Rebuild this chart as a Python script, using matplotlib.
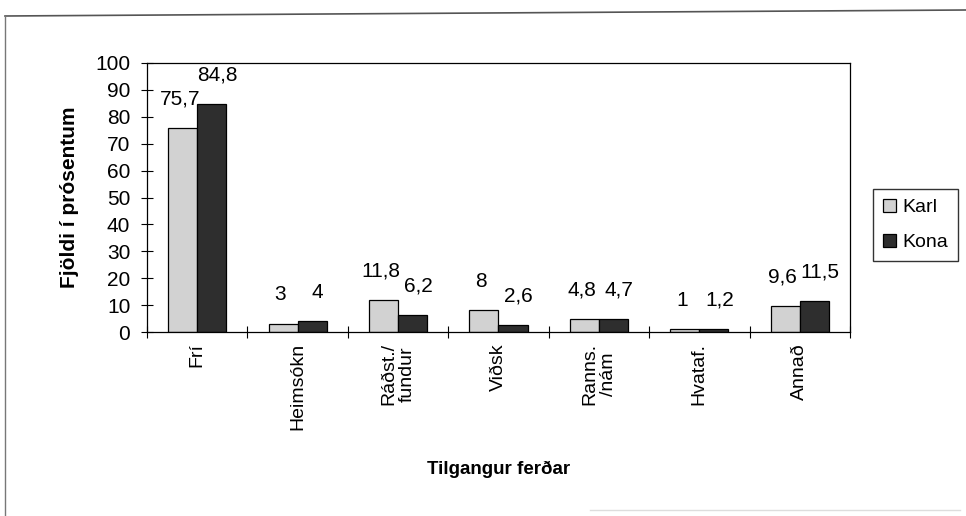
import numpy as np
import matplotlib
matplotlib.use("Agg")
import matplotlib.pyplot as plt
from matplotlib.lines import Line2D

plt.rcParams["font.family"] = ["Liberation Sans", "DejaVu Sans"]

categories = ["Frí", "Heimsókn", "Ráðst./\nfundur", "Viðsk", "Ranns.\n/nám", "Hvataf.", "Annað"]
karl = [75.7, 3, 11.8, 8, 4.8, 1, 9.6]
kona = [84.8, 4, 6.2, 2.6, 4.7, 1.2, 11.5]
karl_lbl = ["75,7", "3", "11,8", "8", "4,8", "1", "9,6"]
kona_lbl = ["84,8", "4", "6,2", "2,6", "4,7", "1,2", "11,5"]

fig = plt.figure(figsize=(9.66, 5.16), dpi=100)
ax = fig.add_axes([147/966, 1 - 332/516, (850-147)/966, (332-63)/516])

x = np.arange(len(categories))
w = 0.29
ax.bar(x - w/2, karl, w, color="#d2d2d2", edgecolor="black", linewidth=0.9, label="Karl")
ax.bar(x + w/2, kona, w, color="#2e2e2e", edgecolor="black", linewidth=0.9, label="Kona")

# value labels above the bars (comma as decimal sign)
for xi, v, s in zip(x - w/2, karl, karl_lbl):
    ax.annotate(s, (xi, v), xytext=(-2, 14), textcoords="offset points",
                ha="center", va="bottom", fontsize=15)
for xi, v, s in zip(x + w/2, kona, kona_lbl):
    ax.annotate(s, (xi, v), xytext=(4, 14), textcoords="offset points",
                ha="center", va="bottom", fontsize=15)

ax.set_xlim(-0.5, len(categories) - 0.5)
ax.set_ylim(0, 100)
ax.set_yticks(range(0, 101, 10))
ax.tick_params(axis="y", labelsize=15, direction="inout", length=8, width=0.8, pad=8)
ax.set_xticks(x)
ax.set_xticklabels(categories, rotation=90, fontsize=14, va="top", linespacing=1.15)
ax.tick_params(axis="x", length=0, pad=8)
ax.set_xticks(np.arange(-0.5, len(categories) + 0.5, 1), minor=True)
ax.tick_params(axis="x", which="minor", direction="inout", length=8, width=0.8)
for sp in ax.spines.values():
    sp.set_linewidth(0.9)

ax.set_ylabel("Fjöldi í prósentum", fontsize=15, fontweight="bold", labelpad=12)
ax.set_xlabel("Tilgangur ferðar", fontsize=13.5, fontweight="bold", labelpad=22)

ax.legend(loc="center left", bbox_to_anchor=(873/966, 1 - 225/516),
          bbox_transform=fig.transFigure, fontsize=14, frameon=True,
          fancybox=False, edgecolor="black", handlelength=0.7, handleheight=0.7,
          labelspacing=0.9, borderpad=0.5, handletextpad=0.3, borderaxespad=0)

# outer chart border (scanned frame)
fig.add_artist(Line2D([5/966, 1], [1 - 16/516, 1 - 10/516], transform=fig.transFigure,
                      color="#555555", lw=1.2))
fig.add_artist(Line2D([5/966, 5/966], [1 - 16/516, 0], transform=fig.transFigure,
                      color="#777777", lw=1.0))
fig.add_artist(Line2D([590/966, 960/966], [1 - 510/516, 1 - 510/516], transform=fig.transFigure,
                      color="#dddddd", lw=1.0))

fig.savefig("out.png", dpi=100)
